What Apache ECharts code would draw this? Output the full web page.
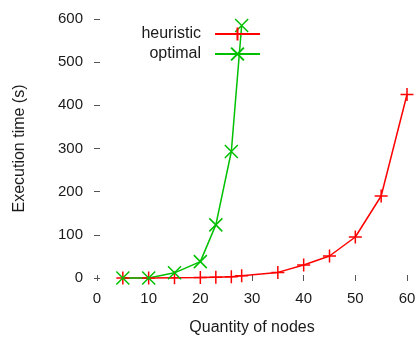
<!DOCTYPE html>
<html>
<head>
<meta charset="utf-8">
<script src="https://cdn.jsdelivr.net/npm/echarts@6/dist/echarts.min.js"></script>
<style>
  html, body { margin: 0; padding: 0; background: #fff; }
  #chart { width: 419px; height: 339px; }
</style>
</head>
<body>
<div id="chart"></div>
<script>
const heuristicNodes = [5, 10, 15, 20, 23, 26, 28, 35, 40, 45, 50, 55, 60];
const heuristicTime = [0, 0, 0.5, 1, 2, 3, 5, 13, 30, 51, 95, 190, 425];
const optimalNodes = [5, 10, 15, 20, 23, 26, 28];
const optimalTime = [0, 0, 12, 38, 123, 293, 585];
const xTicks = [0, 10, 20, 30, 40, 50, 60];
const yTicks = [0, 100, 200, 300, 400, 500, 600];

const chartDom = document.getElementById('chart');
const myChart = echarts.init(chartDom);

const font = 'Liberation Sans';
const textColor = '#1a1a1a';
const plus = 'path://M0,6.5L13,6.5M6.5,0L6.5,13';
const cross = 'path://M0,0L13,13M13,0L0,13';

const pair = (xs, ys) => xs.map((x, i) => [x, ys[i]]);

const tick = { show: true, length: 3, lineStyle: { color: '#555', width: 1 } };
const xRange = { min: xTicks[0], max: xTicks[xTicks.length - 1], interval: xTicks[1] - xTicks[0] };
const yRange = { min: yTicks[0], max: yTicks[yTicks.length - 1], interval: yTicks[1] - yTicks[0] };

const option = {
    animation: false,
    grid: { left: 97, right: 12, top: 19, bottom: 61, containLabel: false, outerBoundsMode: 'none' },
    legend: {
        orient: 'vertical',
        right: 153,
        top: 21,
        align: 'right',
        itemWidth: 45,
        itemHeight: 16,
        itemGap: 4,
        textStyle: { fontFamily: font, fontSize: 16, color: textColor, padding: [0, 9, 0, 0] },
        data: ['heuristic', 'optimal']
    },
    xAxis: [
        {
            type: 'value',
            ...xRange,
            name: 'Quantity of nodes',
            nameLocation: 'middle',
            nameGap: 42,
            nameTextStyle: { fontFamily: font, fontSize: 16, color: textColor },
            axisLine: { show: false },
            axisTick: tick,
            splitLine: { show: false },
            axisLabel: { fontFamily: font, fontSize: 15, color: textColor, margin: 13 }
        },
        {
            type: 'value',
            position: 'top',
            ...xRange,
            axisLine: { show: false },
            axisTick: tick,
            splitLine: { show: false },
            axisLabel: { show: false }
        }
    ],
    yAxis: [
        {
            type: 'value',
            ...yRange,
            name: 'Execution time (s)',
            nameLocation: 'middle',
            nameGap: 69,
            nameTextStyle: { fontFamily: font, fontSize: 16, color: textColor },
            axisLine: { show: false },
            axisTick: tick,
            splitLine: { show: false },
            axisLabel: { fontFamily: font, fontSize: 15, color: textColor, margin: 14 }
        },
        {
            type: 'value',
            position: 'right',
            ...yRange,
            axisLine: { show: false },
            axisTick: tick,
            splitLine: { show: false },
            axisLabel: { show: false }
        }
    ],
    series: [
        {
            name: 'heuristic',
            type: 'line',
            data: pair(heuristicNodes, heuristicTime),
            symbol: plus,
            symbolSize: 13,
            clip: false,
            lineStyle: { color: '#ff0000', width: 1.5 },
            itemStyle: { color: '#ff0000', borderColor: '#ff0000', borderWidth: 1.5 }
        },
        {
            name: 'optimal',
            type: 'line',
            data: pair(optimalNodes, optimalTime),
            symbol: cross,
            symbolSize: 13,
            clip: false,
            lineStyle: { color: '#00c000', width: 1.5 },
            itemStyle: { color: '#00c000', borderColor: '#00c000', borderWidth: 1.5 }
        }
    ]
};

myChart.setOption(option);
</script>
</body>
</html>
